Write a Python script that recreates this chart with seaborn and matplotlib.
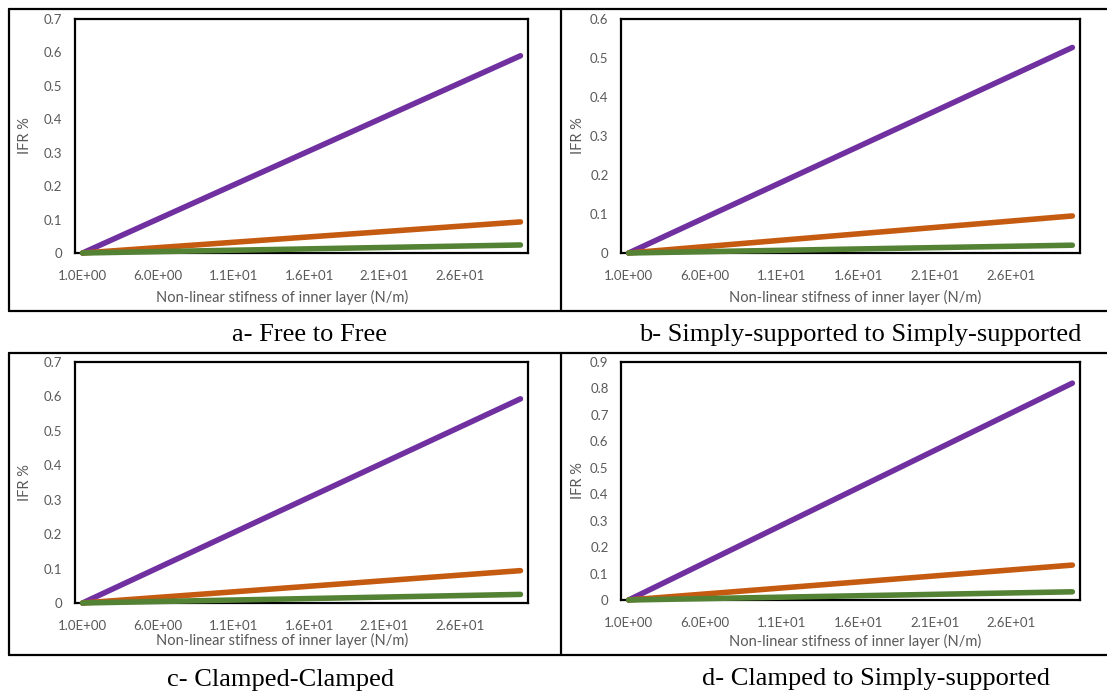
#!/usr/bin/env python
"""IFR vs non-linear stiffness of the inner layer for four boundary conditions."""
import matplotlib.pyplot as plt
from matplotlib.lines import Line2D
import pandas as pd
import seaborn as sns

# x axis is a category axis with 30 stiffness values (1 .. 30 N/m); lines are straight
stiffness = [1.0, 30.0]
tick_values = [1, 6, 11, 16, 21, 26]
tick_labels = ['1.0E+00', '6.0E+00', '1.1E+01', '1.6E+01', '2.1E+01', '2.6E+01']
curves = ['c1', 'c2', 'c3']
colors = ['#7030A0', '#C55A11', '#548235']

ifr_free_free = [[0.0, 0.590], [0.0, 0.093], [0.0, 0.024]]
ifr_ss_ss = [[0.0, 0.527], [0.0, 0.095], [0.0, 0.020]]
ifr_cc = [[0.0, 0.593], [0.0, 0.094], [0.0, 0.025]]
ifr_c_ss = [[0.0, 0.820], [0.0, 0.132], [0.0, 0.031]]

ymax = [0.7, 0.6, 0.7, 0.9]
captions = ['a- Free to Free', 'b- Simply-supported to Simply-supported',
            'c- Clamped-Clamped', 'd- Clamped to Simply-supported']

sns.set_theme(style='white')
plt.rcParams['font.family'] = ['Lato', 'DejaVu Sans']
GREY = '#595959'

W, H = 1107, 695
fig = plt.figure(figsize=(W / 100, H / 100), dpi=100)


def px_axes(l, t, r, b):
    return fig.add_axes([l / W, 1 - b / H, (r - l) / W, (b - t) / H])


# pixel boxes of the plot areas, axis-title spots and caption centres
boxes = [(75, 19, 528, 253), (621, 19, 1080, 253), (75, 362, 528, 603), (621, 362, 1080, 600)]
xlab_xy = [(282, 297), (855, 297), (282, 640), (855, 641)]
ylab_x = [25, 578, 25, 578]
cap_xy = [(310, 335), (860, 335), (281, 680), (876, 679)]

for i, (box, top, vals, cap) in enumerate(zip(boxes, ymax, [ifr_free_free, ifr_ss_ss, ifr_cc, ifr_c_ss],
                                              captions)):
    ax = px_axes(*box)
    df = pd.DataFrame({
        'k': stiffness * len(curves),
        'ifr': [v for s in vals for v in s],
        'curve': [c for c in curves for _ in stiffness],
    })
    sns.lineplot(data=df, x='k', y='ifr', hue='curve', hue_order=curves, palette=colors,
                 lw=4, legend=False, sort=False, ax=ax)
    for ln in ax.lines:
        ln.set_solid_capstyle('round')
        ln.set_clip_on(False)
        ln.set_zorder(3)

    ax.set_xlim(0.5, 30.5)
    ax.set_ylim(0, top)
    ax.set_xticks(tick_values, tick_labels)
    n = int(round(top * 10))
    ax.set_yticks([j / 10 for j in range(n + 1)],
                  ['0'] + ['%.1f' % (j / 10) for j in range(1, n + 1)])
    ax.tick_params(axis='y', length=0, labelsize=9.5, colors=GREY, pad=9)
    ax.tick_params(axis='x', length=0, labelsize=9.5, colors=GREY, pad=12)
    for sp in ax.spines.values():
        sp.set_color('black')
        sp.set_linewidth(1.6)
        sp.set_visible(True)

    l, t, r, b = box
    xx, xy = xlab_xy[i]
    ax.set_xlabel('Non-linear stifness of inner layer (N/m)', fontsize=10.5, color=GREY, va='center')
    ax.set_ylabel('IFR %', fontsize=10.5, color=GREY, va='center')
    ax.xaxis.set_label_coords((xx - l) / (r - l), (b - xy) / (b - t))
    ax.yaxis.set_label_coords((ylab_x[i] - l) / (r - l), 0.5)

    cx, cy = cap_xy[i]
    fig.text(cx / W, 1 - cy / H, cap, ha='center', va='center', fontsize=19,
             family='Liberation Serif', color='black')


# table grid lines
def hline(y, x0=9, x1=W):
    fig.add_artist(Line2D([x0 / W, x1 / W], [1 - y / H, 1 - y / H], color='black', lw=1.6))


def vline(x, y0, y1):
    fig.add_artist(Line2D([x / W, x / W], [1 - y0 / H, 1 - y1 / H], color='black', lw=1.6))


for y in (9, 311, 353, 655):
    hline(y)
for x in (9, 561):
    vline(x, 9, 311)
    vline(x, 353, 655)

plt.savefig('out.png', dpi=100)
